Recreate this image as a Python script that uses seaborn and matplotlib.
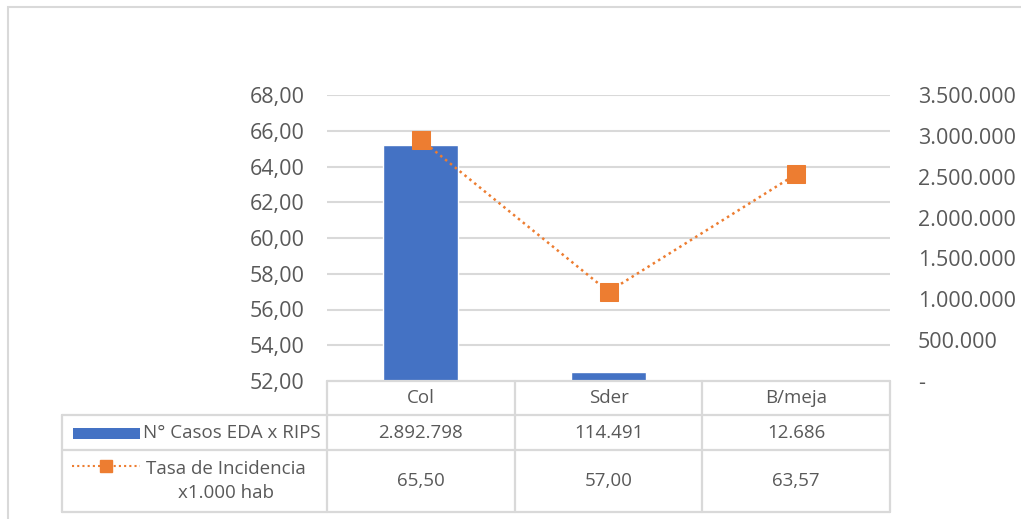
import matplotlib
matplotlib.use("Agg")
import matplotlib.pyplot as plt
import matplotlib.transforms as mtransforms
from matplotlib.lines import Line2D
from matplotlib.patches import Rectangle
import seaborn as sns
import pandas as pd

categories = ["Col", "Sder", "B/meja"]
casos = [2892798, 114491, 12686]
tasa = [65.50, 57.00, 63.57]
casos_labels = ["2.892.798", "114.491", "12.686"]
tasa_labels = ["65,50", "57,00", "63,57"]
left_ticks = [52, 54, 56, 58, 60, 62, 64, 66, 68]
left_tick_labels = ["52,00", "54,00", "56,00", "58,00", "60,00", "62,00", "64,00", "66,00", "68,00"]
right_ticks = [0, 500000, 1000000, 1500000, 2000000, 2500000, 3000000, 3500000]
right_tick_labels = ["-", "500.000", "1.000.000", "1.500.000", "2.000.000", "2.500.000", "3.000.000", "3.500.000"]
series_names = ["N° Casos EDA x RIPS", "Tasa de Incidencia\nx1.000 hab"]

sns.set_theme(style="white")
plt.rcParams["font.family"] = ["Open Sans", "DejaVu Sans"]

BLUE = "#4472C4"
ORANGE = "#ED7D31"
GRID = "#D9D9D9"
TXT = "#595959"
FS_TICK = 15.5
FS = 13.5

df = pd.DataFrame({"cat": categories, "casos": casos, "tasa": tasa})

W, H = 1021, 519
fig = plt.figure(figsize=(W / 100, H / 100), dpi=100)
x0, x1, ytop, ybot = 327, 890, 95, 381
ax = fig.add_axes([x0 / W, 1 - ybot / H, (x1 - x0) / W, (ybot - ytop) / H])
ax2 = ax.twinx()

# bars on secondary axis
sns.barplot(data=df, x="cat", y="casos", ax=ax2, color=BLUE, width=0.4,
            saturation=1, zorder=2)
ax2.set_ylim(0, 3500000)
ax2.set_yticks(right_ticks)
ax2.set_yticklabels(right_tick_labels)

# line on primary axis
sns.lineplot(data=df, x="cat", y="tasa", ax=ax, color=ORANGE, linestyle=(0, (1, 1.5)),
             linewidth=1.8, marker="s", markersize=13, markeredgecolor=ORANGE,
             markerfacecolor=ORANGE, sort=False, zorder=5)
ax.set_ylim(52, 68)
ax.set_yticks(left_ticks)
ax.set_yticklabels(left_tick_labels)
ax.set_xlim(-0.5, 2.5)
ax2.set_xlim(-0.5, 2.5)

# line above bars
ax.set_zorder(ax2.get_zorder() + 1)
ax.patch.set_visible(False)

for a in (ax, ax2):
    a.set_xlabel("")
    a.set_ylabel("")
    a.set_xticks([])
    for s in a.spines.values():
        s.set_visible(False)
    a.tick_params(axis="y", length=0, labelsize=FS_TICK, labelcolor=TXT)
ax.tick_params(axis="y", pad=16)
ax2.tick_params(axis="y", pad=20)

# gridlines (left axis)
for t in left_ticks[1:]:
    ax2.axhline((t - 52) / 16 * 3500000, color=GRID, linewidth=1.5, zorder=0)

# outer chart border
fig.add_artist(Rectangle((8 / W, -0.1), 1.2, 1 - 7 / H + 0.1, transform=fig.transFigure,
                         fill=False, edgecolor=GRID, linewidth=1.5))

# data table
bt = mtransforms.blended_transform_factory(ax.transData, fig.transFigure)
ft = fig.transFigure
def fy(p):
    return 1 - p / H
r0, r1, r2, r3 = 381, 415, 450, 512
xl = 62 / W
lw = 1.6
# horizontal lines
fig.add_artist(Line2D([-0.5, 2.5], [fy(r0)] * 2, transform=bt, color=GRID, lw=lw))
for r in (r1, r2, r3):
    fig.add_artist(Line2D([xl, x1 / W], [fy(r)] * 2, transform=ft, color=GRID, lw=lw))
# vertical lines
for xv in (-0.5, 0.5, 1.5, 2.5):
    fig.add_artist(Line2D([xv, xv], [fy(r0), fy(r3)], transform=bt, color=GRID, lw=lw))
fig.add_artist(Line2D([xl, xl], [fy(r1), fy(r3)], transform=ft, color=GRID, lw=lw))

for i, c in enumerate(categories):
    fig.text(0, fy((r0 + r1) / 2), c, transform=bt, ha="center", va="center",
             fontsize=FS, color=TXT).set_x(i)
    fig.text(0, fy((r1 + r2) / 2), casos_labels[i], transform=bt, ha="center",
             va="center", fontsize=FS, color=TXT).set_x(i)
    fig.text(0, fy((r2 + r3) / 2), tasa_labels[i], transform=bt, ha="center",
             va="center", fontsize=FS, color=TXT).set_x(i)

# legend keys in table
fig.add_artist(Rectangle((73 / W, fy(439)), 67 / W, 11 / H, transform=ft,
                         facecolor=BLUE, edgecolor="none"))
fig.text(232 / W, fy((r1 + r2) / 2), series_names[0], ha="center", va="center",
         fontsize=FS, color=TXT)
fig.add_artist(Line2D([72 / W, 140 / W], [fy(466)] * 2, transform=ft, color=ORANGE,
                      linestyle=(0, (1, 1.5)), lw=1.5))
fig.add_artist(Line2D([106 / W], [fy(466)], transform=ft, color=ORANGE, marker="s",
                      markersize=8.5, linestyle="none"))
fig.text(226 / W, fy((r2 + r3) / 2), series_names[1], ha="center", va="center",
         fontsize=FS, color=TXT, linespacing=1.5)

fig.savefig("out.png", dpi=100)
